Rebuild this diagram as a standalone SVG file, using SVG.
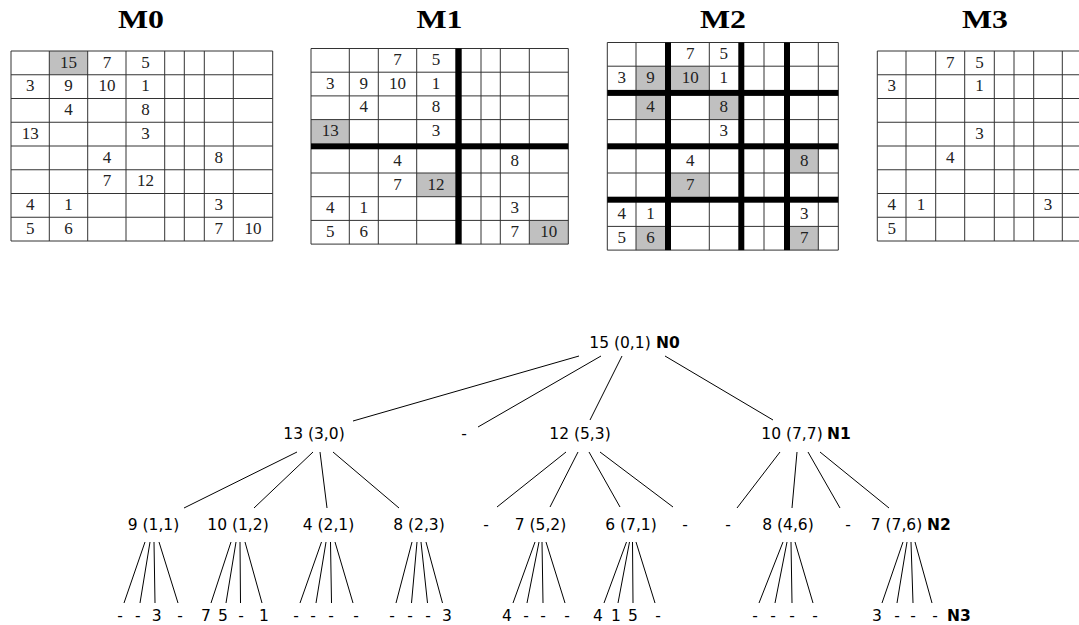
<svg xmlns="http://www.w3.org/2000/svg" width="1079" height="625" viewBox="0 0 1079 625">
<style>
.g{stroke:#333;stroke-width:1;fill:none}
.k{fill:#000}
.s{fill:#c0c0c0}
.c{font-family:"Liberation Serif",serif;font-size:17px;fill:#222;text-anchor:middle}
.h{font-family:"Liberation Serif",serif;font-weight:bold;font-size:26px;text-anchor:middle;fill:#000}
.t{font-family:"DejaVu Sans",sans-serif;font-size:15.5px;fill:#000}
.m{text-anchor:middle}
.b{font-weight:bold}
.e{stroke:#000;stroke-width:1;fill:none}
</style>
<rect width="1079" height="625" fill="#fff"/>

<g id="M0">
<text class="h" x="141" y="28" textLength="46" lengthAdjust="spacingAndGlyphs">M0</text>
<rect class="s" x="49.3" y="51" width="38.4" height="23.75"/>
<path class="g" d="M11 51H272.7M11 74.75H272.7M11 98.5H272.7M11 122.25H272.7M11 146H272.7M11 169.75H272.7M11 193.5H272.7M11 217.25H272.7M11 241H272.7M11 51V241M49.3 51V241M87.7 51V241M126 51V241M164.7 51V241M184.3 51V241M204.3 51V241M233.3 51V241M272.7 51V241"/>
<g class="c">
<text x="68.5" y="67.5">15</text><text x="106.9" y="67.5">7</text><text x="145.4" y="67.5">5</text>
<text x="30.2" y="91.3">3</text><text x="68.5" y="91.3">9</text><text x="106.9" y="91.3">10</text><text x="145.4" y="91.3">1</text>
<text x="68.5" y="115">4</text><text x="145.4" y="115">8</text>
<text x="30.2" y="138.8">13</text><text x="145.4" y="138.8">3</text>
<text x="106.9" y="162.5">4</text><text x="218.8" y="162.5">8</text>
<text x="106.9" y="186.3">7</text><text x="145.4" y="186.3">12</text>
<text x="30.2" y="210">4</text><text x="68.5" y="210">1</text><text x="218.8" y="210">3</text>
<text x="30.2" y="233.8">5</text><text x="68.5" y="233.8">6</text><text x="218.8" y="233.8">7</text><text x="253" y="233.8">10</text>
</g>
</g>

<g id="M1">
<text class="h" x="439.5" y="28" textLength="46" lengthAdjust="spacingAndGlyphs">M1</text>
<rect class="s" x="311" y="119.6" width="38.3" height="23.7"/>
<rect class="s" x="416.7" y="173" width="38.6" height="23.7"/>
<rect class="s" x="529.3" y="220.4" width="39" height="23.7"/>
<path class="g" d="M311 48.5H568.3M311 72.2H568.3M311 95.9H568.3M311 119.6H568.3M311 173H568.3M311 196.7H568.3M311 220.4H568.3M311 244.1H568.3M311 48.5V244.1M349.3 48.5V244.1M378.3 48.5V244.1M416.7 48.5V244.1M481 48.5V244.1M500.3 48.5V244.1M529.3 48.5V244.1M568.3 48.5V244.1"/>
<rect class="k" x="311" y="143.3" width="257.3" height="6"/>
<rect class="k" x="455.3" y="48.5" width="6.4" height="195.6"/>
<g class="c">
<text x="397.5" y="65">7</text><text x="436" y="65">5</text>
<text x="330.2" y="88.7">3</text><text x="363.8" y="88.7">9</text><text x="397.5" y="88.7">10</text><text x="436" y="88.7">1</text>
<text x="363.8" y="112.4">4</text><text x="436" y="112.4">8</text>
<text x="330.2" y="136.1">13</text><text x="436" y="136.1">3</text>
<text x="397.5" y="165.8">4</text><text x="514.8" y="165.8">8</text>
<text x="397.5" y="189.5">7</text><text x="436" y="189.5">12</text>
<text x="330.2" y="213.2">4</text><text x="363.8" y="213.2">1</text><text x="514.8" y="213.2">3</text>
<text x="330.2" y="236.9">5</text><text x="363.8" y="236.9">6</text><text x="514.8" y="236.9">7</text><text x="548.8" y="236.9">10</text>
</g>
</g>

<g id="M2">
<text class="h" x="723" y="28" textLength="46" lengthAdjust="spacingAndGlyphs">M2</text>
<rect class="s" x="636" y="66.2" width="29" height="23.7"/>
<rect class="s" x="671" y="66.2" width="38.3" height="23.7"/>
<rect class="s" x="636" y="95.9" width="29" height="23.7"/>
<rect class="s" x="709.3" y="95.9" width="29" height="23.7"/>
<rect class="s" x="790" y="149.3" width="28.3" height="23.7"/>
<rect class="s" x="671" y="173" width="38.3" height="23.7"/>
<rect class="s" x="636" y="226.4" width="29" height="23.7"/>
<rect class="s" x="790" y="226.4" width="28.3" height="23.7"/>
<path class="g" d="M607.3 42.5H838.3M607.3 66.2H838.3M607.3 119.6H838.3M607.3 173H838.3M607.3 226.4H838.3M607.3 250.1H838.3M607.3 42.5V250.1M636 42.5V250.1M709.3 42.5V250.1M764 42.5V250.1M818.3 42.5V250.1M838.3 42.5V250.1"/>
<rect class="k" x="607.3" y="89.9" width="231" height="6"/>
<rect class="k" x="607.3" y="143.3" width="231" height="6"/>
<rect class="k" x="607.3" y="196.7" width="231" height="6"/>
<rect class="k" x="665" y="42.5" width="6" height="207.6"/>
<rect class="k" x="738.3" y="42.5" width="6" height="207.6"/>
<rect class="k" x="784" y="42.5" width="6" height="207.6"/>
<g class="c">
<text x="690.2" y="59">7</text><text x="723.8" y="59">5</text>
<text x="621.7" y="82.7">3</text><text x="650.5" y="82.7">9</text><text x="690.2" y="82.7">10</text><text x="723.8" y="82.7">1</text>
<text x="650.5" y="112.4">4</text><text x="723.8" y="112.4">8</text>
<text x="723.8" y="136.1">3</text>
<text x="690.2" y="165.8">4</text><text x="804.2" y="165.8">8</text>
<text x="690.2" y="189.5">7</text>
<text x="621.7" y="219.2">4</text><text x="650.5" y="219.2">1</text><text x="804.2" y="219.2">3</text>
<text x="621.7" y="242.9">5</text><text x="650.5" y="242.9">6</text><text x="804.2" y="242.9">7</text>
</g>
</g>

<g id="M3">
<text class="h" x="985" y="28" textLength="46" lengthAdjust="spacingAndGlyphs">M3</text>
<path class="g" d="M877.3 51H1091M877.3 74.75H1091M877.3 98.5H1091M877.3 122.25H1091M877.3 146H1091M877.3 169.75H1091M877.3 193.5H1091M877.3 217.25H1091M877.3 241H1091M877.3 51V241M906 51V241M935.7 51V241M964.7 51V241M994.3 51V241M1014 51V241M1033.7 51V241M1062.3 51V241"/>
<g class="c">
<text x="950.2" y="67.5">7</text><text x="979.5" y="67.5">5</text>
<text x="891.7" y="91.3">3</text><text x="979.5" y="91.3">1</text>
<text x="979.5" y="138.8">3</text>
<text x="950.2" y="162.5">4</text>
<text x="891.7" y="210">4</text><text x="920.9" y="210">1</text><text x="1048" y="210">3</text>
<text x="891.7" y="233.8">5</text>
</g>
</g>

<g id="connectors" class="e">
<path d="M579 356L353 421M601 356L478 427M622 356L590 420M665 356L773 420"/>
<path d="M297 452L184 508M313 452L254 508M320 452L327 508M333 452L399 508"/>
<path d="M566 452L497 507M578 452L550 507M589 452L620 507M600 452L673 507"/>
<path d="M780 452L737 508M797 452L792 508M808 452L840 508M820 452L889 508"/>
<path d="M145 542L124 603M150 542L140 603M154 542L155 603M159 542L178 603"/>
<path d="M231 542L211 603M236 542L226 603M240 542L240.5 603M245 542L262 603"/>
<path d="M321.5 542L300 603M326 542L316 603M330.5 542L331.5 603M335 542L353 603"/>
<path d="M412 542L396 603M417 542L411.5 603M421 542L427.5 603M426 542L442.5 603"/>
<path d="M535 542L513 603M539 542L527 603M542 542L543 603M546 542L565 603"/>
<path d="M626.5 542L604 603M629.5 542L618 603M632.5 542L633 603M636 542L655 603"/>
<path d="M783 542L759 603M787 542L775 603M791 542L792 603M795 542L813 603"/>
<path d="M903 542L882 603M907 542L897 603M911 542L913 603M915 542L932 603"/>
</g>

<g id="N0" class="t"><text class="m" x="620" y="348">15 (0,1)</text><text class="b" x="656" y="348">N0</text></g>
<g id="n13" class="t"><text class="m" x="314" y="439">13 (3,0)</text></g>
<g id="nd1" class="t"><text class="m" x="464" y="439">-</text></g>
<g id="n12" class="t"><text class="m" x="580" y="439">12 (5,3)</text></g>
<g id="N1" class="t"><text class="m" x="792" y="439">10 (7,7)</text><text class="b" x="827" y="439">N1</text></g>

<g id="n9" class="t"><text class="m" x="153.5" y="530">9 (1,1)</text></g>
<g id="n10" class="t"><text class="m" x="238" y="530">10 (1,2)</text></g>
<g id="n4" class="t"><text class="m" x="328.5" y="530">4 (2,1)</text></g>
<g id="n8a" class="t"><text class="m" x="419" y="530">8 (2,3)</text></g>
<g id="nd2" class="t"><text class="m" x="486" y="530">-</text></g>
<g id="n7a" class="t"><text class="m" x="540.5" y="530">7 (5,2)</text></g>
<g id="n6" class="t"><text class="m" x="631" y="530">6 (7,1)</text></g>
<g id="nd3" class="t"><text class="m" x="685" y="530">-</text></g>
<g id="nd4" class="t"><text class="m" x="728" y="530">-</text></g>
<g id="n8b" class="t"><text class="m" x="788" y="530">8 (4,6)</text></g>
<g id="nd5" class="t"><text class="m" x="848" y="530">-</text></g>
<g id="N2" class="t"><text class="m" x="896.5" y="530">7 (7,6)</text><text class="b" x="927" y="530">N2</text></g>

<g id="leaves9" class="t m"><text x="120" y="621">-</text><text x="137.7" y="621">-</text><text x="156.7" y="621">3</text><text x="180" y="621">-</text></g>
<g id="leaves10" class="t m"><text x="206" y="621">7</text><text x="223" y="621">5</text><text x="241" y="621">-</text><text x="264" y="621">1</text></g>
<g id="leaves4" class="t m"><text x="296" y="621">-</text><text x="313" y="621">-</text><text x="331" y="621">-</text><text x="356" y="621">-</text></g>
<g id="leaves8a" class="t m"><text x="392" y="621">-</text><text x="410" y="621">-</text><text x="428" y="621">-</text><text x="447" y="621">3</text></g>
<g id="leaves7a" class="t m"><text x="507" y="621">4</text><text x="526" y="621">-</text><text x="543" y="621">-</text><text x="567" y="621">-</text></g>
<g id="leaves6" class="t m"><text x="598" y="621">4</text><text x="616" y="621">1</text><text x="633" y="621">5</text><text x="658" y="621">-</text></g>
<g id="leaves8b" class="t m"><text x="755" y="621">-</text><text x="773" y="621">-</text><text x="792" y="621">-</text><text x="815" y="621">-</text></g>
<g id="N3" class="t"><text class="m" x="877" y="621">3</text><text class="m" x="897" y="621">-</text><text class="m" x="913" y="621">-</text><text class="m" x="935" y="621">-</text><text class="b" x="947" y="621">N3</text></g>
</svg>
